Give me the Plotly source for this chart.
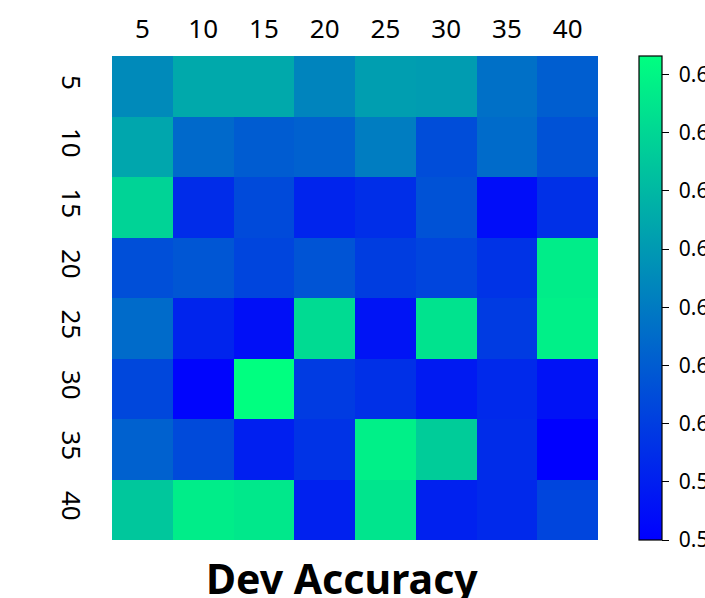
import numpy as np
import plotly.graph_objects as go

x_labels = ["5", "10", "15", "20", "25", "30", "35", "40"]
y_labels = ["5", "10", "15", "20", "25", "30", "35", "40"]

row_5 = [0.6125, 0.6175, 0.6175, 0.6116, 0.6158, 0.6154, 0.6083, 0.6054]
row_10 = [0.6170, 0.6071, 0.6050, 0.6058, 0.6104, 0.6025, 0.6075, 0.6033]
row_15 = [0.6245, 0.5971, 0.6021, 0.5958, 0.5975, 0.6033, 0.5921, 0.5979]
row_20 = [0.6029, 0.6041, 0.6012, 0.6037, 0.6000, 0.6012, 0.5983, 0.6287]
row_25 = [0.6075, 0.5958, 0.5925, 0.6258, 0.5933, 0.6270, 0.5996, 0.6291]
row_30 = [0.6016, 0.5908, 0.6316, 0.5996, 0.5979, 0.5942, 0.5967, 0.5929]
row_35 = [0.6058, 0.6021, 0.5950, 0.5983, 0.6291, 0.6233, 0.5971, 0.5900]
row_40 = [0.6224, 0.6287, 0.6279, 0.5954, 0.6274, 0.5954, 0.5967, 0.6012]

cbar_ticks = [0.590, 0.595, 0.600, 0.605, 0.610, 0.615, 0.620, 0.625, 0.630]
cbar_ticktext = ["0.590", "0.595", "0.600", "0.605", "0.610", "0.615", "0.620", "0.625", "0.630"]

z = np.array([row_5, row_10, row_15, row_20, row_25, row_30, row_35, row_40])

W, H = 705, 598
L, R, T, B = 112, 598, 56, 540

fig = go.Figure(go.Heatmap(
    z=z, x=x_labels, y=y_labels,
    zmin=z.min(), zmax=z.max(),
    colorscale=[[0, "rgb(0,0,255)"], [1, "rgb(0,255,128)"]],
    xgap=0, ygap=0,
    colorbar=dict(
        x=(639 - L) / (R - L), xanchor="left", xpad=0,
        y=0.5, yanchor="middle", len=1, lenmode="fraction",
        thickness=23, thicknessmode="pixels",
        outlinewidth=1.2, outlinecolor="black",
        ticks="outside", ticklen=7, tickwidth=1, tickcolor="black",
        tickvals=cbar_ticks, ticktext=["\u00a0" + t for t in cbar_ticktext],
        tickfont=dict(family="Noto Sans", size=21, color="black"),
        ypad=0,
    ),
))

fig.update_layout(
    width=W, height=H,
    margin=dict(l=L, r=W - R, t=T, b=H - B, pad=0, autoexpand=False),
    paper_bgcolor="white", plot_bgcolor="white",
    font=dict(family="Noto Sans", color="black"),
    xaxis=dict(side="top", type="category", showgrid=False, zeroline=False, automargin=False,
               ticks="", tickfont=dict(size=26), ticklabelstandoff=12),
    yaxis=dict(type="category", autorange="reversed", showgrid=False, zeroline=False, automargin=False,
               ticks="", tickangle=90, tickfont=dict(size=26), ticklabelstandoff=23),
    annotations=[dict(
        text="<b>Dev Accuracy</b>", xref="paper", yref="paper",
        x=(342 - L) / (R - L), y=(B - 578) / (B - T),
        xanchor="center", yanchor="middle", showarrow=False,
        font=dict(family="Noto Sans", size=41, color="black"),
    )],
)

fig.write_html(
    "out.html",
    config={"displayModeBar": False},
    post_script="document.body.style.margin='0';document.body.style.overflow='hidden';",
)
